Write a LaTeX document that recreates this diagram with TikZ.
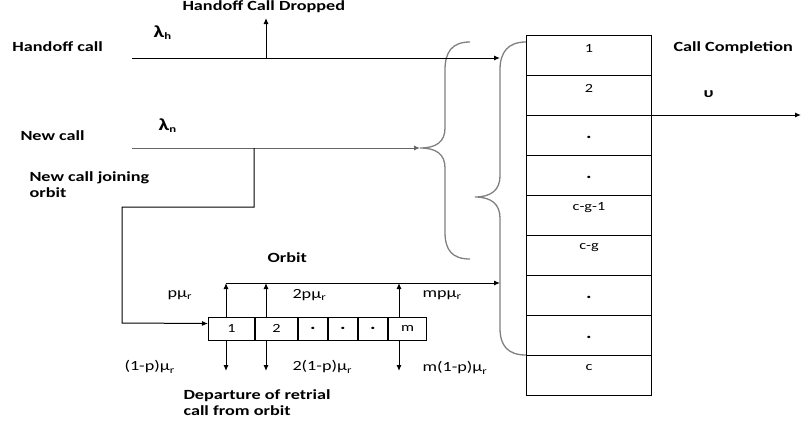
\documentclass[tikz,border=0pt]{standalone}
\usepackage{fontspec}
\setmainfont{Carlito}[FakeStretch=1.3]
\usetikzlibrary{arrows.meta,calc}
\newcommand{\bdot}{{\fontsize{16}{16}\selectfont\bfseries .}}
\begin{document}
\begin{tikzpicture}[x=1pt,y=-1pt,
  line width=1pt,
  arr/.style={-{Latex[length=6pt,width=5pt]}},
  cell/.style={draw, minimum width=125pt, minimum height=40pt, inner sep=0pt, anchor=north west},
  ocell/.style={draw, minimum height=23pt, inner sep=0pt, anchor=west, font=\fontsize{12.5}{14}\selectfont},
  ctext/.style={font=\fontsize{12.5}{14}\selectfont, inner sep=0pt},
  btext/.style={font=\fontsize{14}{16}\selectfont\bfseries, inner sep=0pt, anchor=west, align=left},
  mtext/.style={font=\fontsize{14}{16}\selectfont, inner sep=0pt, anchor=west},
  brace/.style={draw=black!50, line width=1.3pt}
]
\useasboundingbox (0,0) rectangle (806,426);

% server cells
\foreach \i/\t/\d in {1/1/13,2/2/13,3/\bdot/22,4/\bdot/22,5/c-g-1/13,6/c-g/13,7/\bdot/22,8/\bdot/22,9/c/13}{
  \node[cell] (s\i) at (526,{35+40*(\i-1)}) {};
  \node[ctext] (st\i) at ([yshift=-\d pt]s\i.north) {\t};
}

% orbit cells
\node[ocell, minimum width=46pt] (o1) at (208,328.5) {1};
\node[ocell, minimum width=42pt] (o2) at (o1.east) {2};
\node[ocell, minimum width=29pt] (o3) at (o2.east) {\bdot};
\node[ocell, minimum width=29pt] (o4) at (o3.east) {\bdot};
\node[ocell, minimum width=29pt] (o5) at (o4.east) {\bdot};
\node[ocell, minimum width=38pt] (o6) at (o5.east) {m};

% braces
\draw[brace] (470,42) .. controls (452,42) and (445,52) .. (445,70) -- (445,128)
  .. controls (445,142) and (436,148) .. (420,148)
  .. controls (436,148) and (445,154) .. (445,168) -- (445,232)
  .. controls (445,250) and (452,259) .. (470,259);
\draw[brace] (526,42) .. controls (508,42) and (500,52) .. (500,70) -- (500,176)
  .. controls (500,190) and (491,197) .. (475,197)
  .. controls (491,197) and (500,204) .. (500,218) -- (500,328)
  .. controls (500,346) and (508,355) .. (526,355);

% coordinates
\coordinate (hstart) at (132,58);
\coordinate (bb1) at (500,58);
\coordinate (hd) at (266,58);
\coordinate (hdtop) at (266,18);
\coordinate (nstart) at (132,148);
\coordinate (sb) at (420,148);
\coordinate (nb) at (254,148);
\coordinate (nb2) at (254,207);
\coordinate (nb3) at (122,207);
\coordinate (nb4) at (122,323);
\coordinate (u1) at (226,283);
\coordinate (u2) at (266,283);
\coordinate (u3) at (399,283);
\coordinate (d1) at (226,371);
\coordinate (d2) at (266,371);
\coordinate (d3) at (399,371);
\coordinate (bb2) at (500,283);
\coordinate (outend) at (801,115);

% connectors
\draw[arr] (hstart) -- (bb1);
\draw[arr] (hd) -- (hdtop);
\draw[arr, draw=black!60] (nstart) -- (sb);
\draw[arr] (nb) -- (nb2) -- (nb3) -- (nb4) -- ([yshift=5pt]o1.west);
\draw[arr] (u1) -- (bb2);
\draw[arr] (u1 |- o1.north) -- (u1);
\draw[arr] (u2 |- o2.north) -- (u2);
\draw[arr] (u3 |- o6.north) -- (u3);
\draw[arr] (d1 |- o1.south) -- (d1);
\draw[arr] (d2 |- o2.south) -- (d2);
\draw[arr] (d3 |- o6.south) -- (d3);
\draw[arr] (s3.north east) -- (outend);

% texts
\node[btext] (tdrop) at (182,7) {Handoff Call Dropped};
\node[btext] (lh) at (153,33) {{\fontsize{17}{18}\selectfont λ}\textsubscript{h}};
\node[btext] (thc) at (12,47) {Handoff call};
\node[btext] (tnc) at (20,136) {New call};
\node[btext] (ln) at (158,126) {{\fontsize{17}{18}\selectfont λ}\textsubscript{n}};
\node[btext] (tjo) at (29,185) {New call joining\\orbit};
\node[btext] (tcc) at (673,48) {Call Completion};
\node[btext] (tu) at (703,94) {υ};
\node[btext] (torb) at (267,258) {Orbit};
\node[mtext] (m1) at (167,295) {pμ\textsubscript{r}};
\node[mtext] (m2) at (292,295) {2pμ\textsubscript{r}};
\node[mtext] (m3) at (422,295) {mpμ\textsubscript{r}};
\node[mtext] (m4) at (124,367) {(1-p)μ\textsubscript{r}};
\node[mtext] (m5) at (292,367) {2(1-p)μ\textsubscript{r}};
\node[mtext] (m6) at (422,368) {m(1-p)μ\textsubscript{r}};
\node[btext] (tdep) at (183,403) {Departure of retrial\\call from orbit};
\end{tikzpicture}
\end{document}
